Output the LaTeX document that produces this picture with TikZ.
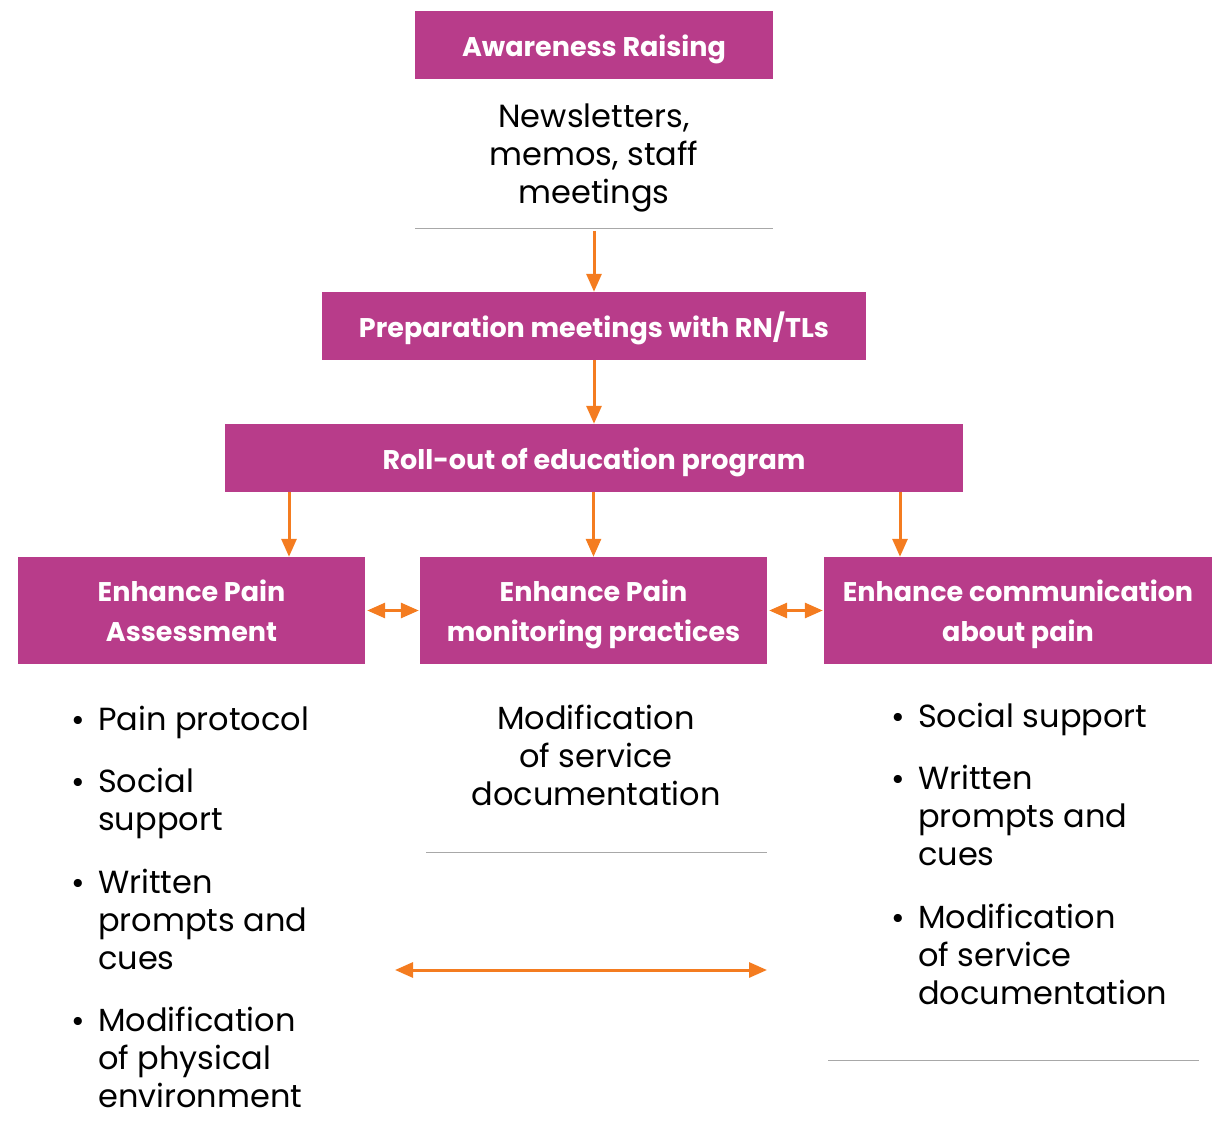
\documentclass[tikz,border=0pt]{standalone}
\usepackage{fontspec}
\setmainfont{Poppins}
\usetikzlibrary{arrows.meta}
\definecolor{mag}{HTML}{B83C8A}
\definecolor{org}{HTML}{F47C20}
\definecolor{gry}{HTML}{A8A8A8}
\newcommand\bxs{\rule[-7.5pt]{0pt}{37.5pt}}
\begin{document}
\begin{tikzpicture}[x=1pt,y=-1pt,
 box/.style={fill=mag, text=white, font=\fontsize{27}{40}\selectfont\bfseries, align=center, inner sep=0, draw=none},
 body/.style={font=\fontsize{32}{38}\selectfont, inner sep=0},
 arr/.style={org, line width=3pt, -{Triangle[length=18pt,width=15pt]}},
 darr/.style={org, line width=3pt, {Triangle[length=18pt,width=15pt]}-{Triangle[length=18pt,width=15pt]}},
 rulel/.style={gry, line width=1pt},
 dot/.style={font=\fontsize{33}{33}\selectfont, inner sep=0, anchor=base west}]
\useasboundingbox (0,0) rectangle (1213,1147);

% boxes
\node[box, minimum width=358pt, minimum height=68pt] (aw) at (594,45) {\bxs Awareness Raising};
\node[box, minimum width=544pt, minimum height=68pt] (prep) at (594,326) {\bxs Preparation meetings with RN/TLs};
\node[box, minimum width=738pt, minimum height=68pt] (roll) at (594,458) {\bxs Roll-out of education program};
\node[box, minimum width=347pt, minimum height=107pt] (left) at (191.5,610.5) {\bxs Enhance Pain\\\bxs Assessment};
\node[box, minimum width=347pt, minimum height=107pt] (mid) at (593.5,610.5) {\bxs Enhance Pain\\\bxs monitoring practices};
\node[box, minimum width=388pt, minimum height=107pt] (right) at (1018,610.5) {\bxs Enhance communication\\\bxs about pain};

% top text
\node[body, anchor=north, align=center] (awt) at (594,100.4) {\strut Newsletters,\\memos, staff\\meetings};
\coordinate (r1a) at (415,229);
\coordinate (r1b) at (773,229);
\draw[rulel] (r1a) -- (r1b);
\coordinate (r1m) at (594,231);

% arrows
\draw[arr] (r1m) -- (prep.north);
\draw[arr] (prep.south) -- (roll.north);
\coordinate (d1) at (289,0);
\coordinate (d3) at (900,0);
\draw[arr] (roll.south -| d1) -- (left.north -| d1);
\draw[arr] (roll.south -| mid.north) -- (mid.north);
\draw[arr] (roll.south -| d3) -- (right.north -| d3);
\draw[darr] ([xshift=2pt]left.east) -- ([xshift=-1pt]mid.west);
\draw[darr] ([xshift=2pt]mid.east) -- ([xshift=-1pt]right.west);

% left list
\node[dot] (lb1) at (71,731) {•};
\node[body, anchor=north west, align=left] (l1) at (98,703.4) {\strut Pain protocol};
\node[dot] (lb2) at (71,793) {•};
\node[body, anchor=north west, align=left] (l2) at (98,765.4) {\strut Social\\support};
\node[dot] (lb3) at (71,894) {•};
\node[body, anchor=north west, align=left] (l3) at (98,866.4) {\strut Written\\prompts and\\cues};
\node[dot] (lb4) at (71,1032) {•};
\node[body, anchor=north west, align=left] (l4) at (98,1004.4) {\strut Modification\\of physical\\environment};

% middle text
\node[body, anchor=north, align=center] (mt) at (596,702.4) {\strut Modification\\of service\\documentation};
\coordinate (r2a) at (426,852);
\coordinate (r2b) at (767,852);
\draw[rulel] (r2a) -- (r2b);
\coordinate (ba) at (395,970);
\coordinate (bb) at (767,970);
\draw[darr] (ba) -- (bb);

% right list
\node[dot] (rb1) at (891,728) {•};
\node[body, anchor=north west, align=left] (q1) at (918,700.4) {\strut Social support};
\node[dot] (rb2) at (891,790) {•};
\node[body, anchor=north west, align=left] (q2) at (918,762.4) {\strut Written\\prompts and\\cues};
\node[dot] (rb3) at (891,929) {•};
\node[body, anchor=north west, align=left] (q3) at (918,901.4) {\strut Modification\\of service\\documentation};
\coordinate (r3a) at (828,1060);
\coordinate (r3b) at (1199,1060);
\draw[rulel] (r3a) -- (r3b);
\end{tikzpicture}
\end{document}
